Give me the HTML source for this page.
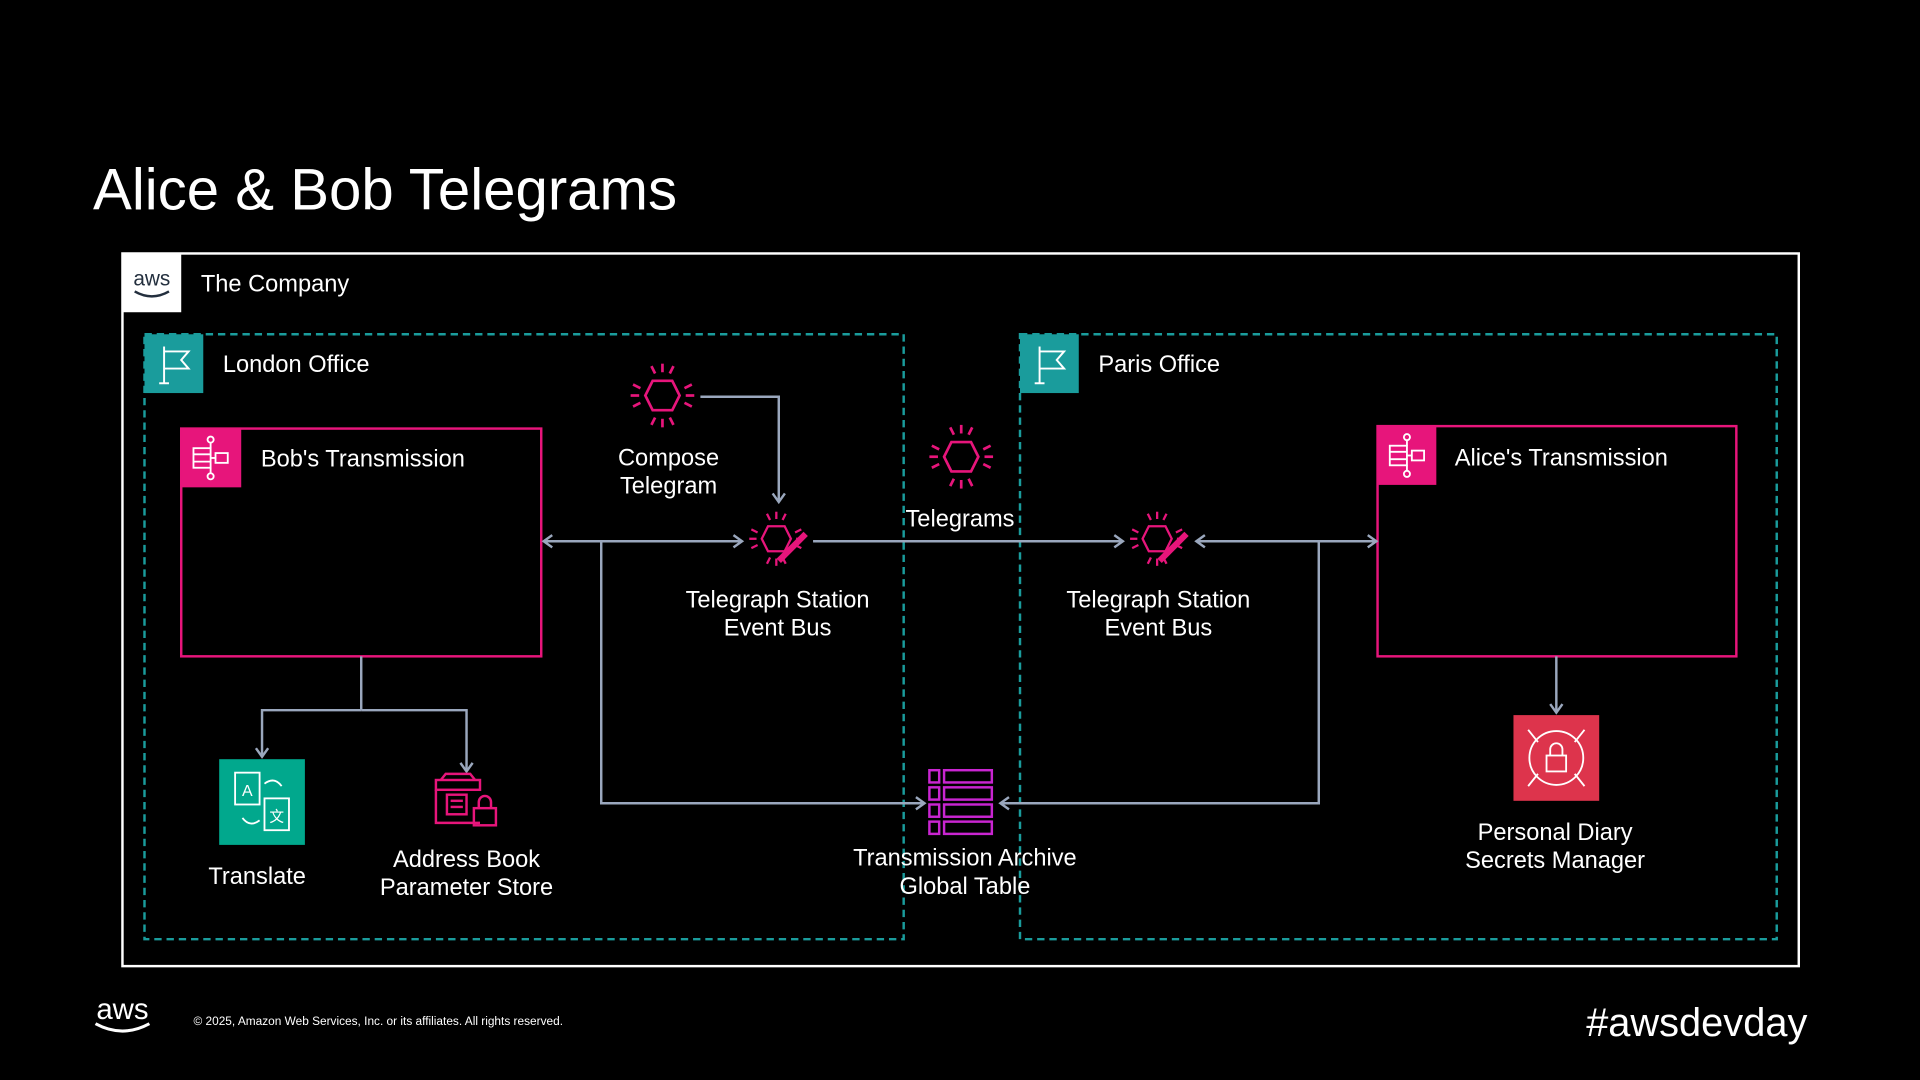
<!DOCTYPE html>
<html><head><meta charset="utf-8"><style>
html,body{margin:0;padding:0;background:#000;}
svg{display:block}
text{font-family:"Liberation Sans",sans-serif;fill:#fff}
</style></head><body>
<svg width="1920" height="1080" viewBox="0 0 1568 882" xmlns="http://www.w3.org/2000/svg">
<defs>
<marker id="a" markerWidth="12" markerHeight="12" refX="9" refY="6" orient="auto-start-reverse" markerUnits="userSpaceOnUse">
<path d="M2,1 L9,6 L2,11" fill="none" stroke="#9aa7bd" stroke-width="2"/>
</marker>
<g id="eb">
<polygon points="-8,-12 8,-12 14,0 8,12 -8,12 -14,0" fill="none" stroke="#e7157b" stroke-width="2.2"/>
<g stroke="#e7157b" stroke-width="2.2">
<line x1="0" y1="-26" x2="0" y2="-19"/><line x1="0" y1="19" x2="0" y2="26"/>
<line x1="-26" y1="0" x2="-19" y2="0"/><line x1="19" y1="0" x2="26" y2="0"/>
<line x1="-9" y1="-24" x2="-6" y2="-18"/><line x1="9" y1="-24" x2="6" y2="-18"/>
<line x1="-9" y1="24" x2="-6" y2="18"/><line x1="9" y1="24" x2="6" y2="18"/>
<line x1="-24" y1="-9" x2="-18" y2="-6"/><line x1="24" y1="-9" x2="18" y2="-6"/>
<line x1="-24" y1="9" x2="-18" y2="6"/><line x1="24" y1="9" x2="18" y2="6"/>
</g></g>
<g id="sf" fill="none" stroke="#fff" stroke-width="1.5">
<circle cx="0" cy="-15" r="2.5"/><line x1="0" y1="-12" x2="0" y2="-8"/>
<rect x="-14" y="-8" width="14" height="16"/><line x1="-14" y1="-3" x2="0" y2="-3"/><line x1="-14" y1="3" x2="0" y2="3"/>
<rect x="4" y="-4" width="10" height="8"/><line x1="0" y1="0" x2="4" y2="0"/>
<line x1="0" y1="8" x2="0" y2="12"/><circle cx="0" cy="15" r="2.5"/>
</g>
<g id="flag" fill="none" stroke="#fff" stroke-width="1.6">
<line x1="-8" y1="-14" x2="-8" y2="16"/><line x1="-12" y1="16" x2="-4" y2="16"/>
<path d="M-8,-10 L12,-10 L6,-3 L12,4 L-8,4"/>
</g>
</defs>

<text x="76" y="171" font-size="47.5">Alice &amp; Bob Telegrams</text>

<rect x="100" y="207" width="1369" height="582" fill="none" stroke="#fff" stroke-width="2"/>
<rect x="100" y="207" width="48" height="48" fill="#fff"/>
<text x="124" y="233" font-size="17" text-anchor="middle" style="fill:#232f3e">aws</text>
<path d="M110,238 Q124,246 138,238" fill="none" stroke="#232f3e" stroke-width="2"/>
<text x="164" y="238" font-size="19.3">The Company</text>

<rect x="118" y="273" width="620" height="494" fill="none" stroke="#1a9c9c" stroke-width="2" stroke-dasharray="6,4"/>
<rect x="118" y="273" width="48" height="48" fill="#1a9c9c"/>
<use href="#flag" x="142" y="297"/>
<text x="182" y="304" font-size="19.3">London Office</text>

<rect x="833" y="273" width="618" height="494" fill="none" stroke="#1a9c9c" stroke-width="2" stroke-dasharray="6,4"/>
<rect x="833" y="273" width="48" height="48" fill="#1a9c9c"/>
<use href="#flag" x="857" y="297"/>
<text x="897" y="304" font-size="19.3">Paris Office</text>

<rect x="148" y="350" width="294" height="186" fill="none" stroke="#e7157b" stroke-width="2"/>
<rect x="148" y="350" width="49" height="48" fill="#e7157b"/>
<use href="#sf" x="172" y="374"/>
<text x="213" y="381" font-size="19.3">Bob's Transmission</text>

<rect x="1125" y="348" width="293" height="188" fill="none" stroke="#e7157b" stroke-width="2"/>
<rect x="1125" y="348" width="48" height="48" fill="#e7157b"/>
<use href="#sf" x="1149" y="372"/>
<text x="1188" y="380" font-size="19.3">Alice's Transmission</text>

<g fill="none" stroke="#9aa7bd" stroke-width="2">
<polyline points="572,324 636,324 636,410" marker-end="url(#a)"/>
<line x1="444" y1="442" x2="606" y2="442" marker-start="url(#a)" marker-end="url(#a)"/>
<line x1="664" y1="442" x2="917" y2="442" marker-end="url(#a)"/>
<line x1="977" y1="442" x2="1124" y2="442" marker-start="url(#a)" marker-end="url(#a)"/>
<polyline points="491,442 491,656 755,656" marker-end="url(#a)"/>
<polyline points="1077,442 1077,656 817,656" marker-end="url(#a)"/>
<line x1="295" y1="536" x2="295" y2="580"/>
<polyline points="295,580 214,580 214,618" marker-end="url(#a)"/>
<polyline points="295,580 381,580 381,630" marker-end="url(#a)"/>
<line x1="1271" y1="536" x2="1271" y2="582" marker-end="url(#a)"/>
</g>

<use href="#eb" x="541" y="323"/>
<text x="546" y="380" font-size="19.3" text-anchor="middle">Compose</text>
<text x="546" y="403" font-size="19.3" text-anchor="middle">Telegram</text>

<use href="#eb" x="634" y="440" transform="translate(634,440) scale(0.85) translate(-634,-440)"/>
<line x1="636" y1="458" x2="658" y2="436" stroke="#e7157b" stroke-width="5"/>
<text x="635" y="496" font-size="19.3" text-anchor="middle">Telegraph Station</text>
<text x="635" y="519" font-size="19.3" text-anchor="middle">Event Bus</text>

<use href="#eb" x="785" y="373"/>
<text x="784" y="430" font-size="19.3" text-anchor="middle">Telegrams</text>

<use href="#eb" x="945" y="440" transform="translate(945,440) scale(0.85) translate(-945,-440)"/>
<line x1="947" y1="458" x2="969" y2="436" stroke="#e7157b" stroke-width="5"/>
<text x="946" y="496" font-size="19.3" text-anchor="middle">Telegraph Station</text>
<text x="946" y="519" font-size="19.3" text-anchor="middle">Event Bus</text>

<g fill="none" stroke="#c925d1" stroke-width="2">
<rect x="759" y="629" width="8" height="10"/><rect x="771" y="629" width="39" height="10"/>
<rect x="759" y="643" width="8" height="10"/><rect x="771" y="643" width="39" height="10"/>
<rect x="759" y="657" width="8" height="10"/><rect x="771" y="657" width="39" height="10"/>
<rect x="759" y="671" width="8" height="10"/><rect x="771" y="671" width="39" height="10"/>
</g>
<text x="788" y="707" font-size="19.3" text-anchor="middle">Transmission Archive</text>
<text x="788" y="730" font-size="19.3" text-anchor="middle">Global Table</text>

<rect x="179" y="620" width="70" height="70" fill="#01a88d"/>
<g fill="none" stroke="#fff" stroke-width="1.5">
<rect x="192" y="631" width="20" height="26"/><rect x="216" y="652" width="20" height="26"/>
<path d="M216,640 q8,-6 14,2"/><path d="M212,670 q-8,6 -14,-2"/>
</g>
<text x="202" y="650" font-size="13" text-anchor="middle">A</text>
<text x="226" y="671" font-size="12" text-anchor="middle">文</text>
<text x="210" y="722" font-size="19.3" text-anchor="middle">Translate</text>

<g fill="none" stroke="#e7157b" stroke-width="2">
<path d="M356,645 L356,672 L392,672"/><rect x="356" y="637" width="36" height="8"/>
<path d="M360,637 L364,632 L384,632 L388,637"/>
<rect x="365" y="649" width="16" height="16"/>
<line x1="368" y1="654" x2="378" y2="654"/><line x1="368" y1="659" x2="378" y2="659"/>
<rect x="387" y="660" width="18" height="14"/><path d="M391,660 v-5 a5,5 0 0 1 10,0 v5"/>
</g>
<text x="381" y="708" font-size="19.3" text-anchor="middle">Address Book</text>
<text x="381" y="731" font-size="19.3" text-anchor="middle">Parameter Store</text>

<rect x="1236" y="584" width="70" height="70" fill="#dd344c"/>
<g fill="none" stroke="#fff" stroke-width="1.5">
<circle cx="1271" cy="619" r="22"/>
<rect x="1263" y="617" width="16" height="13"/><path d="M1266,617 v-5 a5,5 0 0 1 10,0 v5"/>
<line x1="1248" y1="596" x2="1256" y2="606"/><line x1="1294" y1="596" x2="1286" y2="606"/>
<line x1="1248" y1="642" x2="1256" y2="632"/><line x1="1294" y1="642" x2="1286" y2="632"/>
</g>
<text x="1270" y="686" font-size="19.3" text-anchor="middle">Personal Diary</text>
<text x="1270" y="709" font-size="19.3" text-anchor="middle">Secrets Manager</text>

<text x="100" y="832" font-size="24" text-anchor="middle">aws</text>
<path d="M78,836 Q100,848 122,836" fill="none" stroke="#fff" stroke-width="2.5"/>
<text x="158" y="837" font-size="9.7">© 2025, Amazon Web Services, Inc. or its affiliates. All rights reserved.</text>
<text x="1476" y="846" font-size="32.5" text-anchor="end">#awsdevday</text>
</svg>
</body></html>
